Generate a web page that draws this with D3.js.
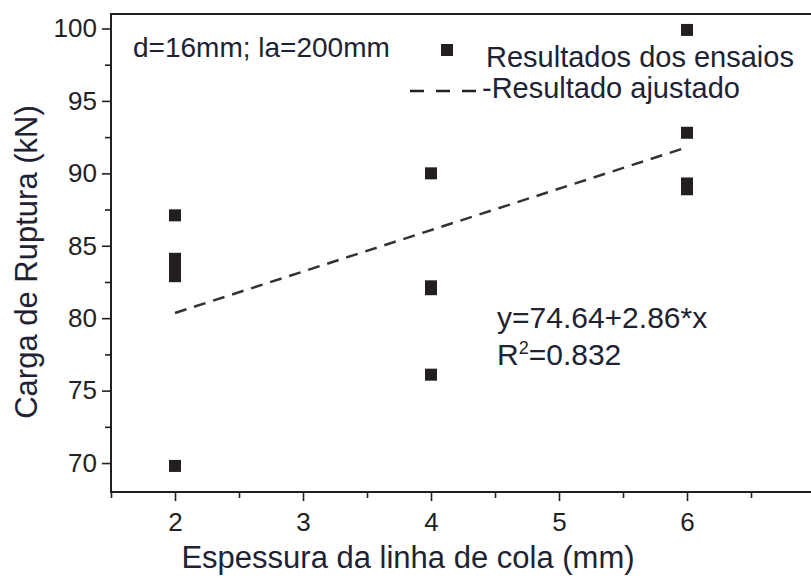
<!DOCTYPE html>
<html>
<head>
<meta charset="utf-8">
<script src="https://cdn.jsdelivr.net/npm/d3@7"></script>
<style>
  body { margin: 0; background: #fff; }
  svg { display: block; font-family: "Liberation Sans", Arial, sans-serif; }
</style>
</head>
<body>
<div id="chart"></div>
<script>
// espessura da linha de cola (mm) e carga de ruptura (kN)
const espessura = [2, 2, 2, 2, 2, 4, 4, 4, 4, 6, 6, 6, 6];
const carga     = [87.1, 84.1, 83.4, 82.9, 69.8, 90.0, 82.2, 82.0, 76.1, 99.9, 92.8, 89.3, 88.9];
const ajuste = { a: 74.64, b: 2.86 };   // y = a + b*x
const ajusteX = [2, 6];
const xTicks = [2, 3, 4, 5, 6];
const yTicks = [70, 75, 80, 85, 90, 95, 100];

const W = 811, H = 579;
const margin = { top: 14, right: -4, bottom: 87, left: 111 };

const svg = d3.select("#chart").append("svg")
    .attr("width", W)
    .attr("height", H);

const x = d3.scaleLinear().domain([1.5, 7]).range([margin.left, W - margin.right]);
const y = d3.scaleLinear().domain([68, 101]).range([H - margin.bottom, margin.top]);

const ink = "#231f20";

// eixos com ticks menores
svg.append("g")
    .attr("transform", `translate(0,${H - margin.bottom})`)
    .call(d3.axisBottom(x).tickValues(xTicks).tickSize(9).tickPadding(12).tickFormat(d3.format("d")));
svg.append("g")
    .attr("transform", `translate(0,${H - margin.bottom})`)
    .call(d3.axisBottom(x).tickValues([1.5, 2.5, 3.5, 4.5, 5.5, 6.5]).tickSize(6).tickFormat(""));

svg.append("g")
    .attr("transform", `translate(${margin.left},0)`)
    .call(d3.axisLeft(y).tickValues(yTicks).tickSize(9).tickPadding(5));
svg.append("g")
    .attr("transform", `translate(${margin.left},0)`)
    .call(d3.axisLeft(y).tickValues([72.5, 77.5, 82.5, 87.5, 92.5, 97.5]).tickSize(6).tickFormat(""));

svg.selectAll(".domain").remove();
svg.selectAll(".tick line").attr("stroke", ink).attr("stroke-width", 1.6);
svg.selectAll(".tick text")
    .attr("fill", "#222")
    .style("font-size", "26px");

// moldura
svg.append("path")
    .attr("d", `M${W + 5},${margin.top}H${margin.left}V${H - margin.bottom}H${W + 5}`)
    .attr("fill", "none")
    .attr("stroke", ink)
    .attr("stroke-width", 2);

// linha ajustada
svg.append("line")
    .attr("x1", x(ajusteX[0])).attr("y1", y(ajuste.a + ajuste.b * ajusteX[0]))
    .attr("x2", x(ajusteX[1])).attr("y2", y(ajuste.a + ajuste.b * ajusteX[1]))
    .attr("stroke", "#333")
    .attr("stroke-width", 2.5)
    .attr("stroke-dasharray", "12,8");

// pontos
const s = 12;
svg.selectAll(".ponto")
    .data(espessura.map((e, i) => ({ e, c: carga[i] })))
    .enter()
    .append("rect")
    .attr("x", d => x(d.e) - s / 2)
    .attr("y", d => y(d.c) - s / 2)
    .attr("width", s)
    .attr("height", s)
    .attr("fill", ink);

// títulos
svg.append("text")
    .attr("x", 408)
    .attr("y", 568)
    .attr("text-anchor", "middle")
    .attr("fill", "#1e2233")
    .style("font-size", "31px")
    .text("Espessura da linha de cola (mm)");

svg.append("text")
    .attr("transform", `translate(37,262) rotate(-90)`)
    .attr("text-anchor", "middle")
    .attr("fill", "#1e2233")
    .style("font-size", "31px")
    .text("Carga de Ruptura (kN)");

// anotações e legenda
svg.append("text")
    .attr("x", 133).attr("y", 57)
    .attr("fill", "#1e2233")
    .style("font-size", "28px")
    .text("d=16mm; la=200mm");

svg.append("rect")
    .attr("x", 441).attr("y", 44).attr("width", s).attr("height", s)
    .attr("fill", ink);
svg.append("text")
    .attr("x", 486).attr("y", 67)
    .attr("fill", "#1e2233")
    .style("font-size", "29px")
    .text("Resultados dos ensaios");

svg.append("line")
    .attr("x1", 410).attr("y1", 91).attr("x2", 482).attr("y2", 91)
    .attr("stroke", ink)
    .attr("stroke-width", 2.5)
    .attr("stroke-dasharray", "14,12");
svg.append("text")
    .attr("x", 482).attr("y", 98)
    .attr("fill", "#1e2233")
    .style("font-size", "29px")
    .text("-Resultado ajustado");

svg.append("text")
    .attr("x", 497).attr("y", 328)
    .attr("fill", "#1e2233")
    .style("font-size", "30px")
    .text("y=74.64+2.86*x");

const r2 = svg.append("text")
    .attr("x", 497).attr("y", 365)
    .attr("fill", "#1e2233")
    .style("font-size", "30px");
r2.append("tspan").text("R");
r2.append("tspan").attr("dy", -11).style("font-size", "18px").text("2");
r2.append("tspan").attr("dy", 11).text("=0.832");
</script>
</body>
</html>
